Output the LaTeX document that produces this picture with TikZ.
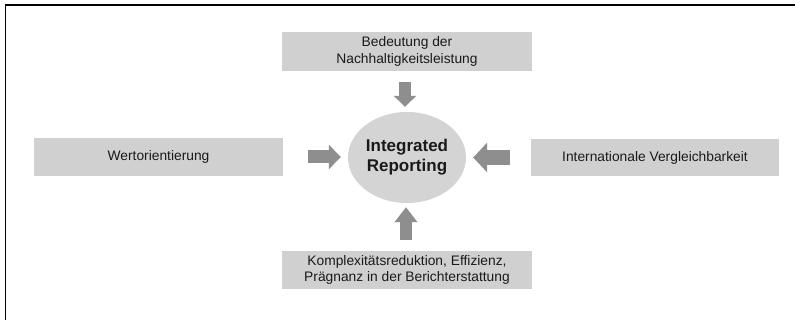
\documentclass[tikz,border=0pt]{standalone}
\usepackage{fontspec}
\setmainfont{Liberation Sans}
\usetikzlibrary{arrows.meta,shapes.geometric}
\definecolor{boxgray}{HTML}{D0D0D0}
\definecolor{ellgray}{HTML}{D4D4D4}
\definecolor{arrgray}{HTML}{8E8E8E}
\definecolor{txt}{HTML}{1A1A1A}
\tikzset{
  box/.style={fill=boxgray, draw=none, inner sep=0pt, align=center, text=txt,
    font=\fontsize{13.8}{16.5}\selectfont},
  blockarrow/.style={draw=arrgray, line width=13pt,
    -{Triangle[length=12pt,width=24pt,fill=arrgray,color=arrgray]}}
}
\begin{document}
\begin{tikzpicture}[x=1pt,y=-1pt]
\useasboundingbox (0,0) rectangle (795,320);
\fill[white] (0,0) rectangle (795,320);
\draw[line width=1.6pt, black] (5.5,322) -- (5.5,4.8) -- (797,4.8);

\node[box, minimum width=250pt, minimum height=39pt] (top) at (407,51.5)
  {Bedeutung der\\Nachhaltigkeitsleistung};
\node[box, minimum width=249pt, minimum height=38pt] (left) at (158.5,157)
  {Wertorientierung};
\node[box, minimum width=248pt, minimum height=37pt] (right) at (655,157.5)
  {Internationale Vergleichbarkeit};
\node[box, minimum width=250pt, minimum height=38pt] (bottom) at (407,270)
  {Komplexitätsreduktion, Effizienz,\\Prägnanz in der Berichterstattung};
\node[ellipse, fill=ellgray, minimum width=118pt, minimum height=91pt, inner sep=0pt,
  align=center, text=txt, font=\fontsize{17}{20}\bfseries\selectfont] (ir) at (407,157.5)
  {Integrated\\Reporting};

\draw[blockarrow, line width=12pt, -{Triangle[length=11pt,width=22pt]}, shorten <=11pt, shorten >=5pt]
  ([xshift=-2pt]top.south) -- ([xshift=-2pt]ir.north);
\draw[blockarrow, shorten <=25pt, shorten >=7pt]
  (left.east) -- (ir.west |- left.east);
\draw[blockarrow, line width=15pt, -{Triangle[length=14pt,width=29pt]}, shorten <=21pt, shorten >=7pt]
  (right.west) -- (ir.east |- right.west);
\draw[blockarrow, line width=12pt, -{Triangle[length=15pt,width=22pt]}, shorten <=11pt, shorten >=4pt]
  ([xshift=-1pt]bottom.north) -- ([xshift=-1pt]ir.south);
\end{tikzpicture}
\end{document}
